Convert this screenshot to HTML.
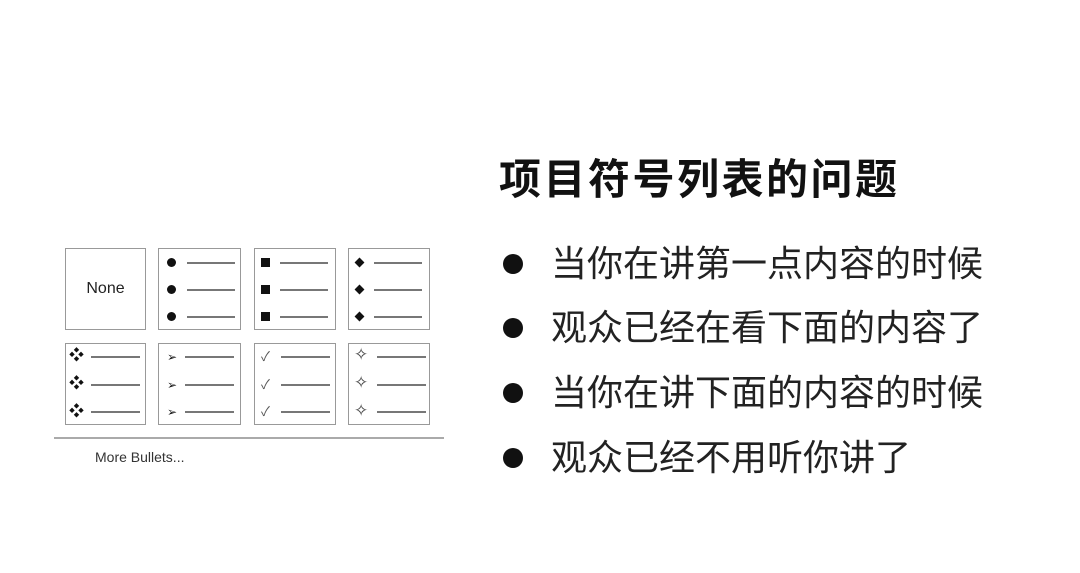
<!DOCTYPE html>
<html><head><meta charset="utf-8"><style>
body{margin:0;width:1080px;height:573px;background:#fff;position:relative;overflow:hidden;font-family:"Liberation Sans","Noto Sans CJK SC",sans-serif}
.a{position:absolute}
.box{position:absolute;border:1.5px solid #999;box-sizing:border-box}
.ln{position:absolute;height:2px;background:#777}
.b{position:absolute;font-size:13px;color:#111;line-height:14px}
.t{position:absolute;left:551px;font-size:36px;letter-spacing:0;color:#222;line-height:46px;white-space:nowrap}
.dot{position:absolute;left:503px;width:20px;height:20px;border-radius:50%;background:#111}
.c{position:absolute;width:9px;height:9px;border-radius:50%;background:#111}
.d{position:absolute;width:7px;height:7px;background:#111;transform:rotate(45deg)}
</style></head><body>
<div class="a" style="left:499px;top:152px;font-size:42px;font-weight:bold;letter-spacing:2.5px;line-height:56px;color:#111;white-space:nowrap">项目符号列表的问题</div>
<div class="dot" style="top:254px"></div><div class="t" style="top:241px">当你在讲第一点内容的时候</div>
<div class="dot" style="top:318px"></div><div class="t" style="top:305px">观众已经在看下面的内容了</div>
<div class="dot" style="top:383px"></div><div class="t" style="top:370px">当你在讲下面的内容的时候</div>
<div class="dot" style="top:448px"></div><div class="t" style="top:435px">观众已经不用听你讲了</div>

<div class="box" style="left:65px;top:248px;width:81px;height:82px"></div>
<div class="a" style="left:65px;top:280px;width:81px;text-align:center;font-size:16px;color:#222">None</div>

<div class="box" style="left:158px;top:248px;width:83px;height:82px"></div>
<div class="box" style="left:254px;top:248px;width:82px;height:82px"></div>
<div class="box" style="left:348px;top:248px;width:82px;height:82px"></div>
<div class="box" style="left:65px;top:343px;width:81px;height:82px"></div>
<div class="box" style="left:158px;top:343px;width:83px;height:82px"></div>
<div class="box" style="left:254px;top:343px;width:82px;height:82px"></div>
<div class="box" style="left:348px;top:343px;width:82px;height:82px"></div>

<div class="c" style="left:167px;top:258px"></div><div class="c" style="left:167px;top:285px"></div><div class="c" style="left:167px;top:312px"></div>
<div class="ln" style="left:187px;top:262px;width:48px"></div><div class="ln" style="left:187px;top:289px;width:48px"></div><div class="ln" style="left:187px;top:316px;width:48px"></div>
<div class="a" style="left:261px;top:258px;width:9px;height:9px;background:#111"></div><div class="a" style="left:261px;top:285px;width:9px;height:9px;background:#111"></div><div class="a" style="left:261px;top:312px;width:9px;height:9px;background:#111"></div>
<div class="ln" style="left:280px;top:262px;width:48px"></div><div class="ln" style="left:280px;top:289px;width:48px"></div><div class="ln" style="left:280px;top:316px;width:48px"></div>
<div class="d" style="left:356px;top:259px"></div><div class="d" style="left:356px;top:286px"></div><div class="d" style="left:356px;top:313px"></div>
<div class="ln" style="left:374px;top:262px;width:48px"></div><div class="ln" style="left:374px;top:289px;width:48px"></div><div class="ln" style="left:374px;top:316px;width:48px"></div>

<div class="b" style="left:69px;top:349px;font-size:15px">❖</div><div class="b" style="left:69px;top:377px;font-size:15px">❖</div><div class="b" style="left:69px;top:405px;font-size:15px">❖</div>
<div class="ln" style="left:91px;top:356px;width:49px"></div><div class="ln" style="left:91px;top:384px;width:49px"></div><div class="ln" style="left:91px;top:411px;width:49px"></div>
<div class="b" style="left:167px;top:350px;font-size:12px">➢</div><div class="b" style="left:167px;top:378px;font-size:12px">➢</div><div class="b" style="left:167px;top:405px;font-size:12px">➢</div>
<div class="ln" style="left:185px;top:356px;width:49px"></div><div class="ln" style="left:185px;top:384px;width:49px"></div><div class="ln" style="left:185px;top:411px;width:49px"></div>
<div class="b" style="left:261px;top:350px;color:#555">✓</div><div class="b" style="left:261px;top:378px;color:#555">✓</div><div class="b" style="left:261px;top:405px;color:#555">✓</div>
<div class="ln" style="left:281px;top:356px;width:49px"></div><div class="ln" style="left:281px;top:384px;width:49px"></div><div class="ln" style="left:281px;top:411px;width:49px"></div>
<div class="b" style="left:354px;top:348px;font-size:17px;color:#444">✧</div><div class="b" style="left:354px;top:376px;font-size:17px;color:#444">✧</div><div class="b" style="left:354px;top:404px;font-size:17px;color:#444">✧</div>
<div class="ln" style="left:377px;top:356px;width:49px"></div><div class="ln" style="left:377px;top:384px;width:49px"></div><div class="ln" style="left:377px;top:411px;width:49px"></div>

<div class="a" style="left:54px;top:437px;width:390px;height:1.5px;background:#aaa"></div>
<div class="a" style="left:95px;top:449px;font-size:14px;color:#333">More Bullets...</div>
</body></html>
